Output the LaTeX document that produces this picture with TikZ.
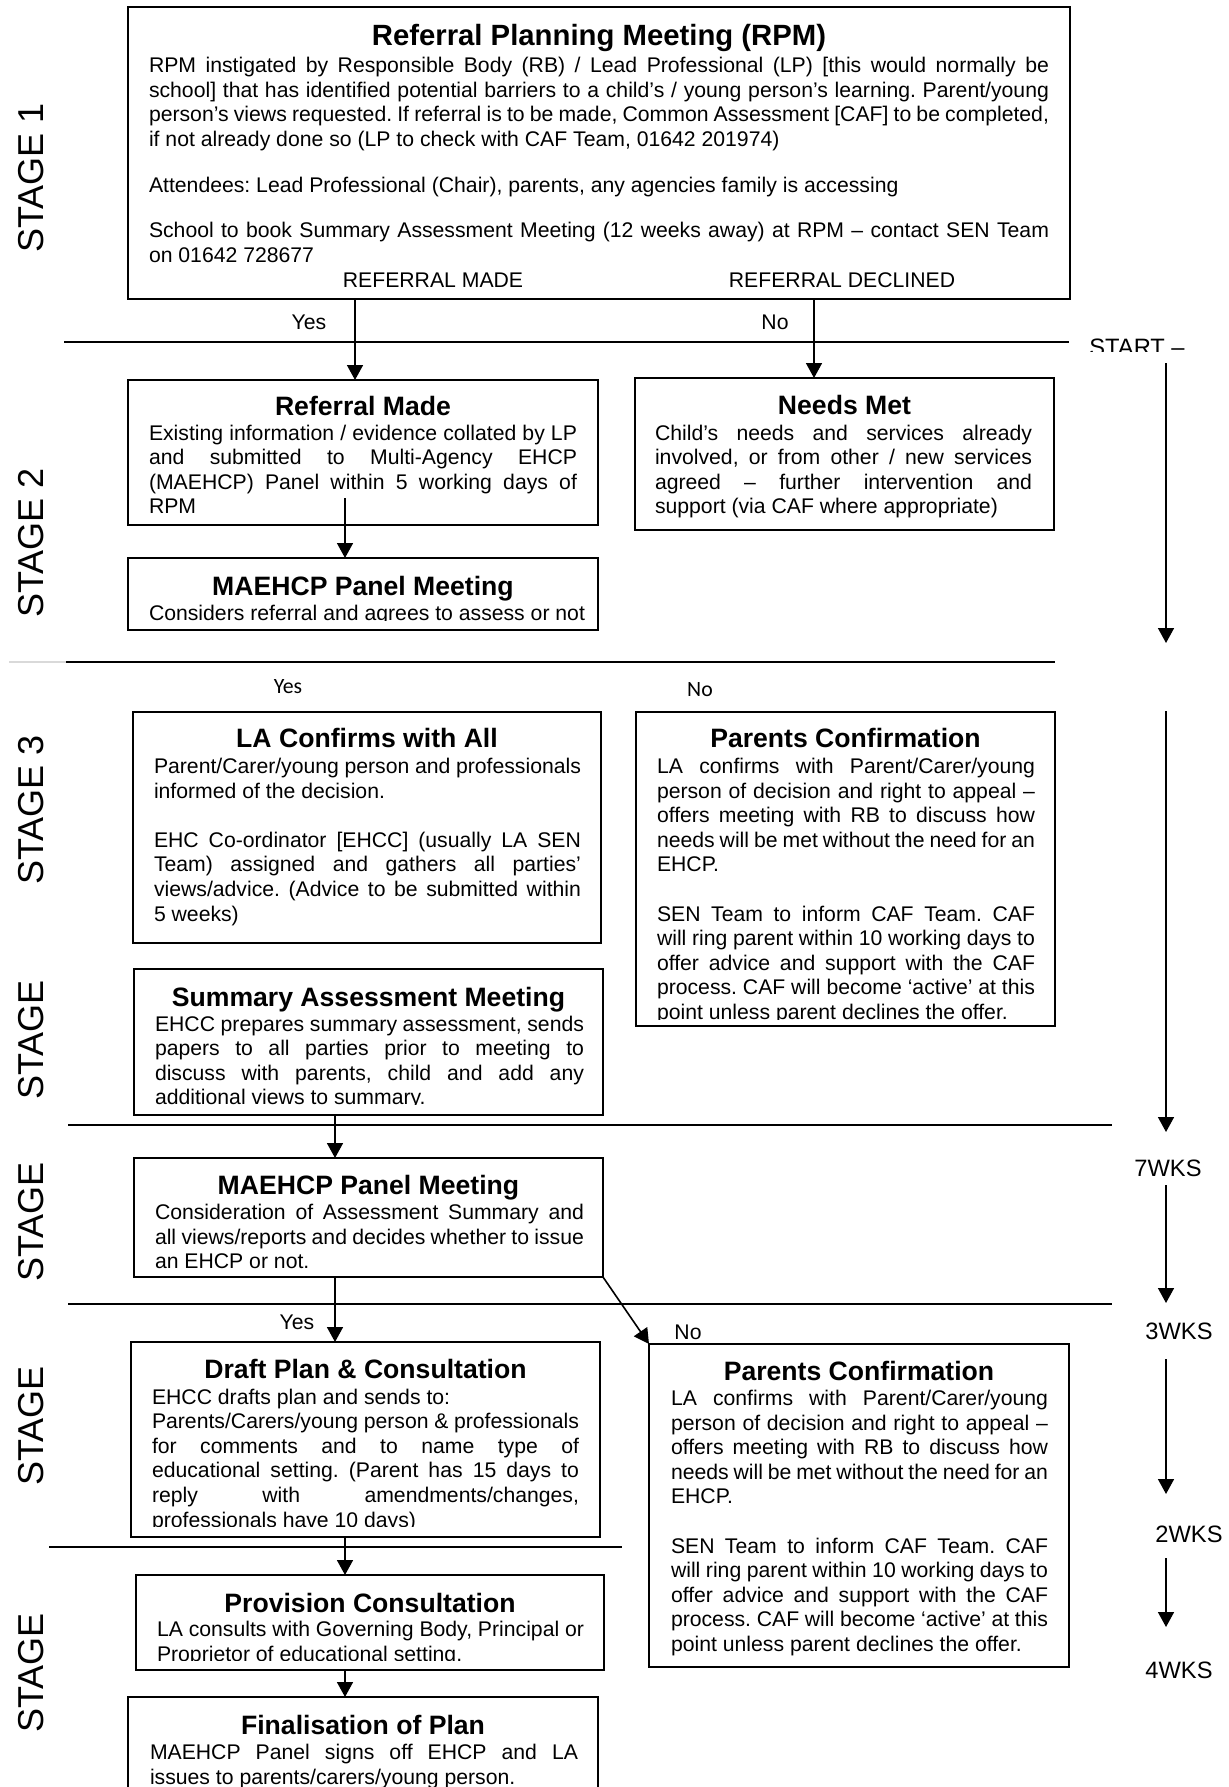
\documentclass[tikz,border=0pt]{standalone}
\usepackage{fontspec}
\setmainfont{Liberation Sans}
\newfontfamily\calib{Carlito}
\usetikzlibrary{arrows.meta}
\frenchspacing
\newcommand\J[1]{\hbox to\linewidth{#1}}
\newcommand\Lf[1]{\hbox{#1}}
\newcommand\bodyf{\fontsize{10.6}{12.3}\selectfont}
\newcommand\blank{\vskip12.3pt}
\begin{document}
\begin{tikzpicture}[x=0.5pt,y=-0.5pt,
  box/.style={draw, line width=1pt, inner sep=0pt, outer sep=0pt, anchor=north west},
  ttl/.style={anchor=base, inner sep=0pt, font=\bfseries\fontsize{13.3}{15}\selectfont},
  txt/.style={anchor=base west, inner sep=0pt, outer sep=0pt},
  lbl/.style={inner sep=0pt, font=\bodyf},
  cal/.style={inner sep=0pt, font=\calib\fontsize{10.9}{13}\selectfont},
  stg/.style={rotate=90, inner sep=0pt, font=\fontsize{18}{20}\selectfont},
  wk/.style={inner sep=0pt, font=\fontsize{11.85}{14}\selectfont},
  sep/.style={line width=1pt},
  arr/.style={line width=0.8pt, -{Triangle[length=7.5pt,width=8pt]}},
]
\useasboundingbox (0,0) rectangle (1228,1787);
\clip (0,0) rectangle (1228,1787);
\fill[white] (0,0) rectangle (1228,1787);

% ---------- stage labels ----------
\node[stg] (s1) at (31,178) {STAGE 1};
\node[stg] (s2) at (31,543) {STAGE 2};
\node[stg] (s3) at (31,810) {STAGE 3};
\node[stg] (s4) at (31,1040) {STAGE};
\node[stg] (s5) at (31,1222) {STAGE};
\node[stg] (s6) at (31,1426) {STAGE};
\node[stg] (s7) at (31,1673) {STAGE};

% ---------- separator lines ----------
\draw[sep] (64,342) -- (1069,342);
\draw[line width=1pt, black!15] (9,662) -- (66,662);
\draw[sep] (66,662) -- (1055,662);
\draw[sep] (68,1125) -- (1112,1125);
\draw[sep] (68,1304) -- (1112,1304);
\draw[sep] (49,1547) -- (622,1547);

% ---------- boxes ----------
\node[box, minimum width=471pt, minimum height=146pt] (rpm) at (128,7) {};
\node[box, minimum width=235pt, minimum height=72.5pt] (rmade) at (128,380) {};
\node[box, minimum width=209.5pt, minimum height=76pt] (needs) at (635,378) {};
\node[box, minimum width=235pt, minimum height=36pt] (mae1) at (128,558) {};
\node[box, minimum width=234pt, minimum height=115.5pt] (la) at (133,712) {};
\node[box, minimum width=209.5pt, minimum height=157pt] (pc1) at (636,712) {};
\node[box, minimum width=234.5pt, minimum height=73pt] (sam) at (134,969) {};
\node[box, minimum width=234.5pt, minimum height=59.5pt] (mae2) at (134,1158) {};
\node[box, minimum width=234.5pt, minimum height=97.5pt] (draft) at (131,1342) {};
\node[box, minimum width=210pt, minimum height=161.5pt] (pc2) at (649,1344) {};
\node[box, minimum width=234pt, minimum height=47.5pt] (prov) at (136,1575) {};
\node[box, minimum width=235pt, minimum height=61.5pt] (fin) at (128,1697) {};

% ---------- RPM ----------
\node[ttl, font=\bfseries\fontsize{14.65}{16}\selectfont] (rpmT) at (599,46) {Referral Planning Meeting (RPM)};
\node[txt] (rpmB) at (149,72.5) {\parbox[t]{450pt}{\bodyf
\J{RPM instigated by Responsible Body (RB) / Lead Professional (LP) [this would normally be}
\J{school] that has identified potential barriers to a child’s / young person’s learning. Parent/young}
\J{person’s views requested. If referral is to be made, Common Assessment [CAF] to be completed,}
\Lf{if not already done so (LP to check with CAF Team, 01642 201974)}
\vskip10.6pt
\Lf{Attendees: Lead Professional (Chair), parents, any agencies family is accessing}
\vskip10.6pt
\J{School to book Summary Assessment Meeting (12 weeks away) at RPM – contact SEN Team}
\Lf{on 01642 728677}}};
\node[lbl, anchor=base] (refm) at (433,287) {REFERRAL MADE};
\node[lbl, anchor=base] (refd) at (842,287) {REFERRAL DECLINED};
\node[lbl] (yes1) at (309,322) {Yes};
\node[lbl] (no1) at (775,322) {No};

% ---------- Referral Made ----------
\node[ttl] (rmadeT) at (363,415) {Referral Made};
\node[txt] (rmadeB) at (149,440) {\parbox[t]{214pt}{\bodyf
\J{Existing information / evidence collated by LP}
\J{and submitted to Multi-Agency EHCP}
\J{(MAEHCP) Panel within 5 working days of}
\Lf{RPM}}};

% ---------- Needs Met ----------
\node[ttl] (needsT) at (844.5,414.5) {Needs Met};
\node[txt] (needsB) at (655,440) {\parbox[t]{188.5pt}{\bodyf
\J{Child’s needs and services already}
\J{involved, or from other / new services}
\J{agreed – further intervention and}
\Lf{support (via CAF where appropriate)}}};

% ---------- MAEHCP 1 ----------
\node[ttl] (mae1T) at (363,595) {MAEHCP Panel Meeting};
\begin{scope}
\clip (128,560) rectangle (598,620);
\node[txt] (mae1B) at (149,620.5) {\parbox[t]{214pt}{\bodyf
\Lf{Considers referral and agrees to assess or not}}};
\end{scope}

% ---------- Stage 3 yes/no ----------
\node[cal] (yes3) at (288,687) {Yes};
\node[cal] (no3) at (700,690) {No};

% ---------- LA Confirms ----------
\node[ttl] (laT) at (367,747) {LA Confirms with All};
\node[txt] (laB) at (154,773.5) {\parbox[t]{213.5pt}{\bodyf
\J{Parent/Carer/young person and professionals}
\Lf{informed of the decision.}
\blank
\J{EHC Co-ordinator [EHCC] (usually LA SEN}
\J{Team) assigned and gathers all parties’}
\J{views/advice. (Advice to be submitted within}
\Lf{5 weeks)}}};

% ---------- Parents Confirmation 1 ----------
\node[ttl] (pc1T) at (845.5,747) {Parents Confirmation};
\begin{scope}
\clip (636,714) rectangle (1055,1019);
\node[txt] (pc1B) at (657,773.5) {\parbox[t]{189pt}{\bodyf
\J{LA confirms with Parent/Carer/young}
\J{person of decision and right to appeal –}
\J{offers meeting with RB to discuss how}
\J{needs will be met without the need for an}
\Lf{EHCP.}
\blank
\J{SEN Team to inform CAF Team. CAF}
\J{will ring parent within 10 working days to}
\J{offer advice and support with the CAF}
\J{process. CAF will become ‘active’ at this}
\Lf{point unless parent declines the offer.}}};
\end{scope}

% ---------- Summary Assessment ----------
\node[ttl] (samT) at (368.5,1006) {Summary Assessment Meeting};
\begin{scope}
\clip (134,971) rectangle (603,1104);
\node[txt] (samB) at (155,1031) {\parbox[t]{214.5pt}{\bodyf
\J{EHCC prepares summary assessment, sends}
\J{papers to all parties prior to meeting to}
\J{discuss with parents, child and add any}
\Lf{additional views to summary.}}};
\end{scope}

% ---------- MAEHCP 2 ----------
\node[ttl] (mae2T) at (368.5,1194) {MAEHCP Panel Meeting};
\node[txt] (mae2B) at (155,1219.5) {\parbox[t]{214.5pt}{\bodyf
\J{Consideration of Assessment Summary and}
\J{all views/reports and decides whether to issue}
\Lf{an EHCP or not.}}};

\node[lbl] (yes6) at (297,1322) {Yes};
\node[lbl] (no6) at (688,1332) {No};

% ---------- Draft Plan ----------
\node[ttl] (draftT) at (365.5,1378) {Draft Plan \& Consultation};
\begin{scope}
\clip (131,1344) rectangle (600,1526.5);
\node[txt] (draftB) at (152,1404) {\parbox[t]{213.5pt}{\bodyf
\Lf{EHCC drafts plan and sends to:}
\J{Parents/Carers/young person \& professionals}
\J{for comments and to name type of}
\J{educational setting. (Parent has 15 days to}
\J{reply with amendments/changes,}
\Lf{professionals have 10 days)}}};
\end{scope}

% ---------- Parents Confirmation 2 ----------
\node[ttl] (pc2T) at (859,1380) {Parents Confirmation};
\node[txt] (pc2B) at (671,1405.5) {\parbox[t]{188.5pt}{\bodyf
\J{LA confirms with Parent/Carer/young}
\J{person of decision and right to appeal –}
\J{offers meeting with RB to discuss how}
\J{needs will be met without the need for an}
\Lf{EHCP.}
\blank
\J{SEN Team to inform CAF Team. CAF}
\J{will ring parent within 10 working days to}
\J{offer advice and support with the CAF}
\J{process. CAF will become ‘active’ at this}
\Lf{point unless parent declines the offer.}}};

% ---------- Provision ----------
\node[ttl] (provT) at (370,1612) {Provision Consultation};
\begin{scope}
\clip (136,1577) rectangle (604,1660.5);
\node[txt] (provB) at (157,1636.5) {\parbox[t]{213.5pt}{\bodyf
\J{LA consults with Governing Body, Principal or}
\Lf{Proprietor of educational setting.}}};
\end{scope}

% ---------- Finalisation ----------
\node[ttl] (finT) at (363,1734) {Finalisation of Plan};
\node[txt] (finB) at (150,1759.5) {\parbox[t]{214pt}{\bodyf
\J{MAEHCP Panel signs off EHCP and LA}
\Lf{issues to parents/carers/young person.}}};

% ---------- connectors ----------
\coordinate (xa) at (355,0);
\coordinate (xb) at (814,0);
\coordinate (xc) at (345,0);
\coordinate (xd) at (335,0);
\coordinate (rmstart) at (345,498);
\draw[arr] (rpm.south -| xa) -- (rmade.north -| xa);
\draw[arr] (rpm.south -| xb) -- (needs.north -| xb);
\draw[arr] (rmstart) -- (mae1.north -| xc);
\draw[arr] (sam.south -| xd) -- (mae2.north -| xd);
\draw[arr] (mae2.south -| xd) -- (draft.north -| xd);
\draw[arr] (mae2.south east) -- (pc2.north west);
\draw[arr] (draft.south -| xc) -- (prov.north -| xc);
\draw[arr] (prov.south -| xc) -- (fin.north -| xc);

% ---------- timeline ----------
\begin{scope}
\clip (1080,330) rectangle (1228,351);
\node[wk, anchor=base west] (start) at (1089,355) {START –};
\end{scope}
\node[wk] (w7) at (1168,1168) {7WKS};
\node[wk] (w3) at (1179,1331) {3WKS};
\node[wk] (w2) at (1189,1534) {2WKS};
\node[wk] (w4) at (1179,1670) {4WKS};
\coordinate (t1a) at (1166,363);  \coordinate (t1b) at (1166,643);
\coordinate (t2a) at (1166,711);  \coordinate (t2b) at (1166,1132);
\coordinate (t3a) at (1166,1185); \coordinate (t3b) at (1166,1303);
\coordinate (t4a) at (1166,1359); \coordinate (t4b) at (1166,1494);
\coordinate (t5a) at (1166,1558); \coordinate (t5b) at (1166,1627);
\draw[arr] (t1a) -- (t1b);
\draw[arr] (t2a) -- (t2b);
\draw[arr] (t3a) -- (t3b);
\draw[arr] (t4a) -- (t4b);
\draw[arr] (t5a) -- (t5b);
\end{tikzpicture}
\end{document}
